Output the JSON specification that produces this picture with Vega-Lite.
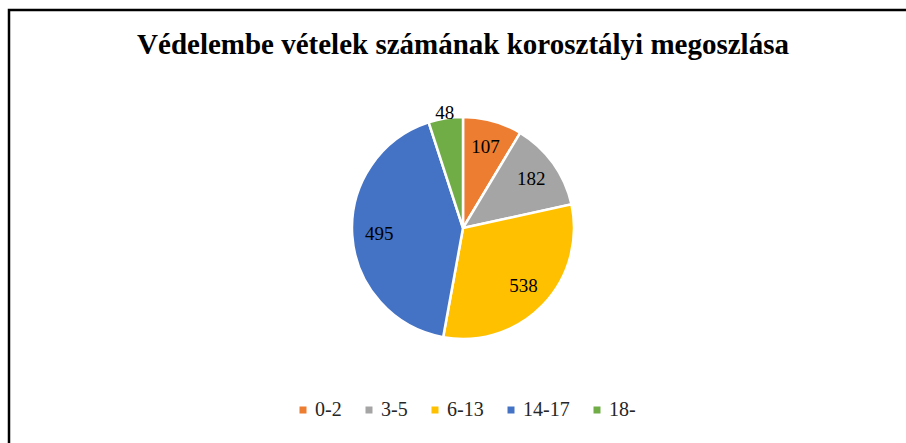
{
  "$schema": "https://vega.github.io/schema/vega-lite/v6.json",
  "width": 908,
  "height": 436,
  "autosize": "none",
  "padding": {"left": 9, "top": 10, "right": 0, "bottom": 0},
  "background": "white",
  "view": {"stroke": "black", "strokeWidth": 2.5},
  "title": {
    "text": "Védelembe vételek számának korosztályi megoszlása",
    "font": "Liberation Serif",
    "fontSize": 29,
    "fontWeight": "bold",
    "color": "#000000",
    "anchor": "middle",
    "offset": -50
  },
  "data": {
    "values": [
      {"cat": "0-2", "label": 107, "slice": 31, "order": 1},
      {"cat": "3-5", "label": 182, "slice": 46.7, "order": 2},
      {"cat": "6-13", "label": 538, "slice": 112.6, "order": 3},
      {"cat": "14-17", "label": 495, "slice": 151.7, "order": 4},
      {"cat": "18-", "label": 48, "slice": 18, "order": 5}
    ]
  },
  "encoding": {
    "theta": {"field": "slice", "type": "quantitative", "stack": true},
    "order": {"field": "order", "type": "quantitative"},
    "detail": {"field": "cat", "type": "nominal"}
  },
  "layer": [
    {
      "mark": {"type": "arc", "outerRadius": 111, "stroke": "white", "strokeWidth": 2.5},
      "encoding": {
        "color": {
          "field": "cat",
          "type": "nominal",
          "scale": {
            "domain": ["0-2", "3-5", "6-13", "14-17", "18-"],
            "range": ["#ED7D31", "#A5A5A5", "#FFC000", "#4472C4", "#70AD47"]
          },
          "legend": {
            "title": null,
            "orient": "none",
            "legendX": 284,
            "legendY": 390,
            "padding": 0,
            "direction": "horizontal",
            "symbolType": "square",
            "symbolSize": 49,
            "symbolStrokeWidth": 0,
            "labelFont": "Liberation Serif",
            "labelFontSize": 20,
            "labelColor": "#262626",
            "columnPadding": 17,
            "labelOffset": 2
          }
        }
      }
    },
    {
      "mark": {"type": "text", "radius": 84, "font": "Liberation Serif", "fontSize": 19, "color": "#000000"},
      "encoding": {
        "text": {"condition": {"test": "datum.label >= 60", "field": "label", "type": "quantitative"}, "value": ""}
      }
    },
    {
      "mark": {"type": "text", "radius": 116, "font": "Liberation Serif", "fontSize": 19, "color": "#000000"},
      "encoding": {
        "text": {"condition": {"test": "datum.label < 60", "field": "label", "type": "quantitative"}, "value": ""}
      }
    }
  ]
}
